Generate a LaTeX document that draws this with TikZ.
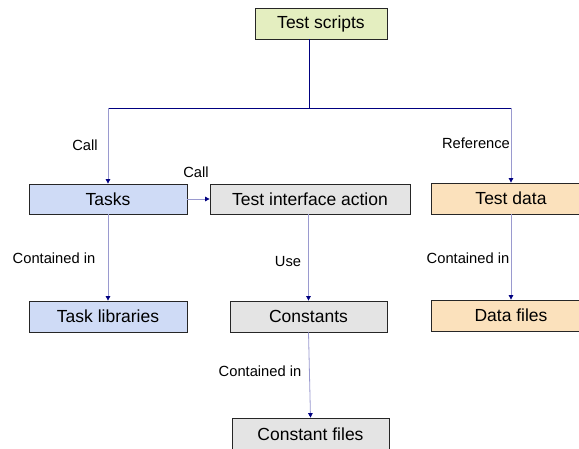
\documentclass[tikz,border=0pt]{standalone}
\usepackage{fontspec}
\setmainfont{Liberation Sans}
\usetikzlibrary{arrows.meta}
\definecolor{navyline}{HTML}{000080}
\definecolor{lavline}{HTML}{9A9ACF}
\definecolor{greenfill}{HTML}{E4EEC0}
\definecolor{bluefill}{HTML}{CFDBF6}
\definecolor{grayfill}{HTML}{E4E4E4}
\definecolor{orangefill}{HTML}{FBE1BC}
\tikzset{
  box/.style={draw=black!85, line width=0.8pt, inner sep=0pt, font=\fontsize{17.5}{20}\selectfont},
  lbl/.style={font=\fontsize{14.7}{17}\selectfont, inner sep=0pt},
  drop/.style={draw=lavline, line width=0.8pt, -{Triangle[width=4.5pt,length=4.5pt,color=navyline]}},
  trunk/.style={draw=navyline, line width=0.9pt},
}
\begin{document}
\begin{tikzpicture}[x=1pt,y=-1pt]
\useasboundingbox (0,0) rectangle (579,449);
\clip (0,0) rectangle (579,449);
% boxes
\node[box, fill=greenfill, minimum width=132pt, minimum height=31pt] (ts) at (321,23.5) {Test scripts};
\node[box, fill=bluefill, minimum width=158pt, minimum height=30pt] (tasks) at (108,199) {Tasks};
\node[box, fill=grayfill, minimum width=200pt, minimum height=30pt] (tia) at (310,199) {Test interface action};
\node[box, fill=orangefill, minimum width=160pt, minimum height=31pt] (td) at (511,198.5) {Test data};
\node[box, fill=bluefill, minimum width=158pt, minimum height=31pt] (tl) at (108,316.5) {Task libraries};
\node[box, fill=grayfill, minimum width=157pt, minimum height=31pt] (con) at (308.5,316.5) {Constants};
\node[box, fill=orangefill, minimum width=160pt, minimum height=31pt] (df) at (511,315.5) {Data files};
\node[box, fill=grayfill, minimum width=157pt, minimum height=33pt] (cf) at (310.5,434.5) {Constant files};
% trunk
\coordinate (j) at (309,108);
\draw[trunk] (ts.south -| j) -- (j);
\draw[trunk] (tasks.north |- j) -- (td.north |- j);
\draw[drop] (tasks.north |- j) -- (tasks.north);
\draw[drop] (td.north |- j) -- (td.north);
\draw[drop] (tasks.east) -- (tia.west);
\draw[drop] (tasks.south) -- (tl.north);
\draw[drop] (tia.south -| con.north) -- (con.north);
\draw[drop] (td.south) -- (df.north);
\draw[drop] (con.south) -- (cf.north);
% labels
\node[lbl] (l1) at (85,145) {Call};
\node[lbl] (l2) at (196,172) {Call};
\node[lbl] (l3) at (476,143) {Reference};
\node[lbl] (l4) at (54,258) {Contained in};
\node[lbl] (l5) at (288,262) {Use};
\node[lbl] (l6) at (468,258) {Contained in};
\node[lbl] (l7) at (260,371) {Contained in};
\end{tikzpicture}
\end{document}
